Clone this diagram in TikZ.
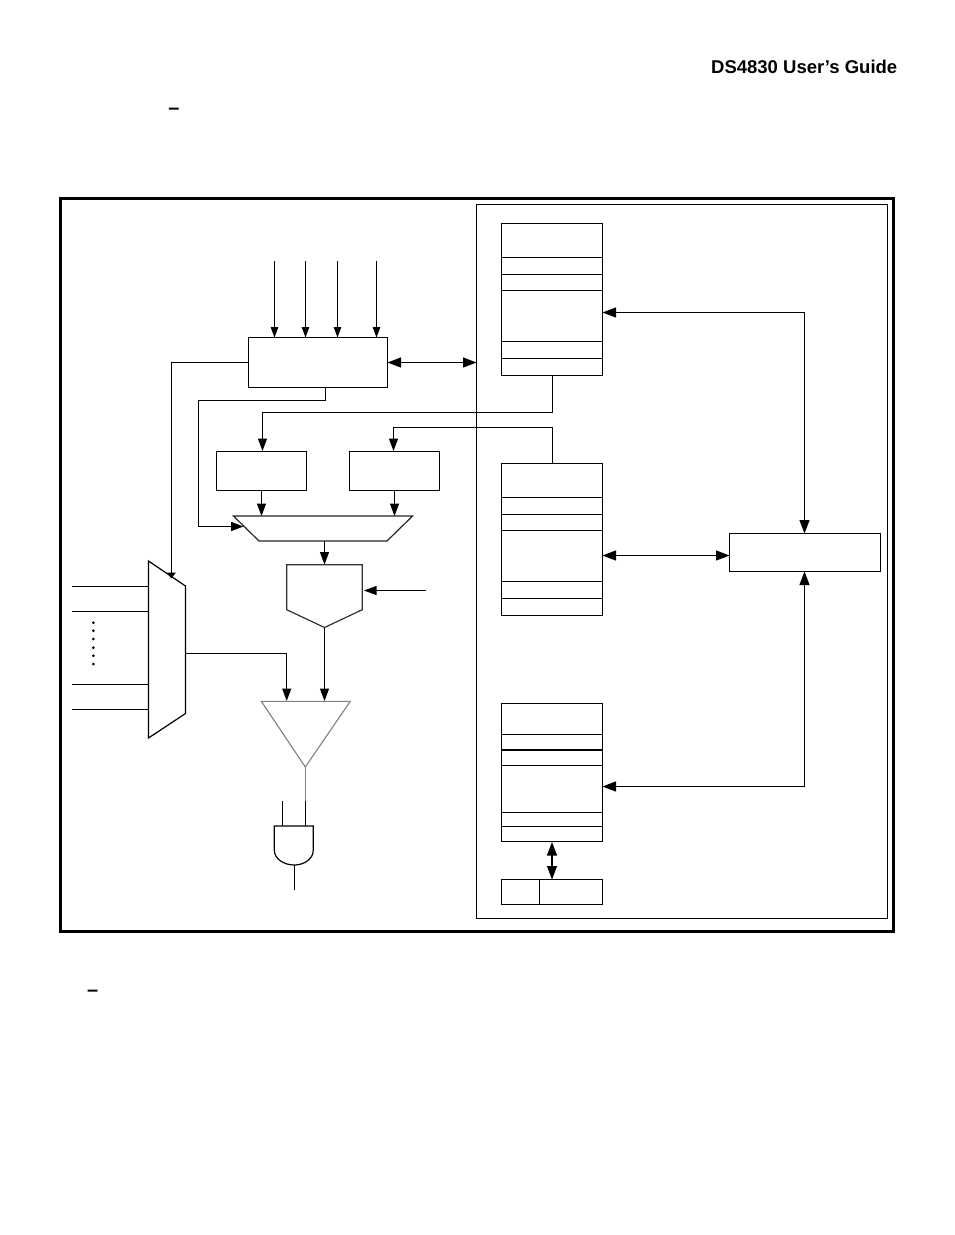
\documentclass[tikz,border=0pt]{standalone}
\usepackage{fontspec}
\setmainfont{Liberation Sans}
\usetikzlibrary{arrows.meta}
\tikzset{
  wire/.style={draw=black,line width=1.2pt},
  greywire/.style={draw=black!50,line width=1.1pt},
  box/.style={draw=black,line width=1.2pt,fill=white,inner sep=0pt,outer sep=0pt,rectangle},
  headS/.style={-{Triangle[length=10.5pt,width=7.5pt]}},
  headM/.style={-{Triangle[length=12.5pt,width=9pt]}},
  headC/.style={-{Triangle[length=6pt,width=9pt]}},
  headLL/.style={{Triangle[length=13.5pt,width=10pt]}-{Triangle[length=13.5pt,width=10pt]}},
  hdrtext/.style={font=\bfseries\fontsize{18.5}{22}\selectfont,inner sep=0pt},
  dashtext/.style={font=\bfseries\fontsize{20}{22}\selectfont,inner sep=0pt},
}
\begin{document}
\begin{tikzpicture}[x=1pt,y=-1pt]
\useasboundingbox (0,0) rectangle (954,1235);
\fill[white] (0,0) rectangle (954,1235);

% page text
\node[hdrtext,anchor=base east] (hdr) at (897.5,73) {DS4830 User’s Guide};
\node[dashtext,anchor=base] (dashA) at (174,114.5) {–};
\node[dashtext,anchor=base] (dashB) at (92.7,996.7) {–};

% frames
\node[box,line width=3pt,minimum width=833,minimum height=732.5] (outer) at (476.5,565) {};
\node[box,minimum width=411,minimum height=713.5] (inner) at (682,561.5) {};

% memory blocks
\node[box,minimum width=101,minimum height=152] (memA) at (552,299.5) {};
\node[box,minimum width=101,minimum height=152] (memB) at (552,539.5) {};
\node[box,minimum width=101,minimum height=138] (memC) at (552,772.5) {};
\foreach \y in {257.5,274.5,290.5,341.5,358.5}
  \draw[wire] (memA.west |- 0,\y) -- (memA.east |- 0,\y);
\foreach \y in {497.5,514.5,530.5,581.5,598.5}
  \draw[wire] (memB.west |- 0,\y) -- (memB.east |- 0,\y);
\foreach \y in {734.5,765.5,812.5,826.5}
  \draw[wire] (memC.west |- 0,\y) -- (memC.east |- 0,\y);
\draw[wire,line width=1.8pt] (memC.west |- 0,750) -- (memC.east |- 0,750);
\node[box,minimum width=38,minimum height=25] (regL) at (520.5,892) {};
\node[box,minimum width=63,minimum height=25] (regR) at (571,892) {};
\node[box,minimum width=151,minimum height=38] (bus) at (805,552.5) {};

% control and registers
\node[box,minimum width=139,minimum height=50] (ctl) at (318,362.5) {};
\node[box,minimum width=90,minimum height=39] (sa) at (261.5,471) {};
\node[box,minimum width=90,minimum height=39] (sb) at (394.5,471) {};

% free ends
\coordinate (inA) at (274.5,261);
\coordinate (inB) at (305.5,261);
\coordinate (inC) at (337.5,261);
\coordinate (inD) at (376.5,261);
\coordinate (vref) at (426,590.5);

% connectors
\draw[wire,headS] (inA) -- (ctl.north -| inA);
\draw[wire,headS] (inB) -- (ctl.north -| inB);
\draw[wire,headS] (inC) -- (ctl.north -| inC);
\draw[wire,headS] (inD) -- (ctl.north -| inD);
\draw[wire,headLL] (ctl.east) -- (inner.west |- ctl.east);
\draw[wire] (325.5,387.5) -- (325.5,400.5) -- (198.5,400.5) -- (198.5,526.5) -- (215,526.5);
\draw[wire,headM] (552.5,375.5) -- (552.5,412.5) -- (262.5,412.5) -- (262.5,451);
\draw[wire,headM] (552.5,463.5) -- (552.5,427.5) -- (393.5,427.5) -- (393.5,451);
\draw[wire,headM] (sa.south) -- (sa.center |- 0,516);
\draw[wire,headM] (sb.south) -- (sb.center |- 0,516);
\draw[wire,headLL] (memA.east |- 0,312.5) -- (804.5,312.5) -- (bus.north -| 804.5,0);
\draw[wire,headLL] (memB.east |- 0,555.5) -- (bus.west |- 0,555.5);
\draw[wire,headLL] (memC.east |- 0,786.5) -- (804.5,786.5) -- (bus.south -| 804.5,0);
\draw[wire,headLL] (552,842) -- (552,879.5);

% mux
\draw[box] (148.5,561) coordinate (mA) -- (185.5,586) coordinate (mB) -- (185.5,713.5) coordinate (mC) -- (148.5,738) coordinate (mD) -- cycle;
\draw[wire] (ctl.west) -- (171.5,362.5) -- (171.5,574);
\draw[wire,headC] (171.3,570) -- (171.3,578.5);
\foreach \y in {586.5,611.5,684.5,709.5}
  \draw[wire] (72,\y) -- (mA |- 0,\y);
\foreach \y in {622.7,630.7,639,647.7,655.7,664}
  \fill (93.3,\y) circle (1.5pt);

% adder trapezoid
\draw[box,draw=black!85] (233.5,516) coordinate (tA) -- (412.5,516) -- (387,541) -- (259,541) -- cycle;
\draw[wire,headM] (198.5,526.5) -- (243.5,526.5);
\draw[wire,headM] (324.5,541) -- (324.5,564.5);

% pentagon
\draw[box,draw=black!80] (286.7,564.7) coordinate (pA) -- (362.3,564.7) coordinate (pB) -- (362.3,609.7) -- (324.5,627.5) coordinate (pTip) -- (286.7,609.7) -- cycle;
\draw[wire,headM] (vref) -- (364,590.5);
\draw[wire,headM] (pTip) -- (324.5,701);

% triangle
\draw[wire,headM] (185.5,653.5) -- (286.7,653.5) -- (286.7,701);
\draw[greywire,fill=white] (261.3,701.3) -- (350.3,701.3) -- (305.3,767) coordinate (tTip) -- cycle;
\draw[greywire] (tTip) -- (305.3,801);

% gate
\draw[wire] (305.3,801) -- (305.3,826);
\draw[wire] (282.3,801) -- (282.3,826);
\draw[box] (274.3,826) -- (313.3,826) -- (313.3,850) .. controls (313.3,859) and (304,865) .. (294.3,865) coordinate (gOut) .. controls (284,865) and (274.3,859) .. (274.3,850) -- cycle;
\draw[wire] (gOut) -- (294.3,890);
\end{tikzpicture}
\end{document}
